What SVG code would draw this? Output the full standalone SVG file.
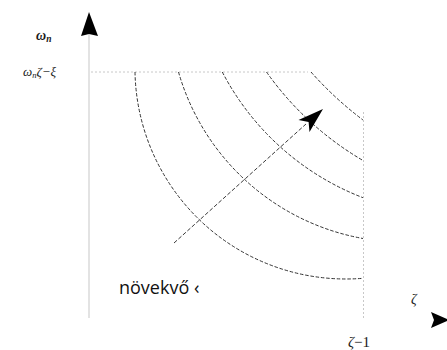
<svg xmlns="http://www.w3.org/2000/svg" width="447" height="350" viewBox="0 0 447 350">
<style>
.curve{fill:none;stroke:#333;stroke-width:1;stroke-dasharray:3.5 1.8}
.guide{fill:none;stroke:#c8c8c8;stroke-width:1;stroke-dasharray:2 2}
.axis{fill:none;stroke:#dcdcdc;stroke-width:1.6}
.math{font-family:"Liberation Serif","DejaVu Serif",serif;font-style:italic;fill:#1a1a1a}
.label{font-family:"Open Sans","Noto Sans",sans-serif;fill:#111}
.head{fill:#000}
</style>
<rect width="447" height="350" fill="#fff"/>
<g id="axes">
  <line class="axis" x1="89" y1="34" x2="89" y2="318"/>
  <polygon class="head" points="89,12 98,36 89,34 81,36"/>
  <polygon class="head" points="431,312 449,320 431,328 434,320"/>
</g>
<g id="guides">
  <line class="guide" x1="91" y1="72" x2="308" y2="72"/>
  <line class="guide" x1="363.5" y1="112" x2="363.5" y2="320"/>
</g>
<g id="curves">
  <path class="curve" d="M135,72 A211,211 0 0,0 363,278.3"/>
  <path class="curve" d="M178.5,72 A235,235 0 0,0 363,238.5"/>
  <path class="curve" d="M222.3,72 A267,267 0 0,0 363,197.7"/>
  <path class="curve" d="M266.5,72 A309.5,309.5 0 0,0 363,160.5"/>
  <path class="curve" d="M311,72 A357,357 0 0,0 363,120"/>
</g>
<g id="connectors">
  <line x1="174" y1="243" x2="306" y2="124" stroke="#3a3a3a" stroke-width="1" stroke-dasharray="4 2"/>
  <polygon class="head" points="323,109 309.5,132 308.6,122 298.5,120"/>
</g>
<g id="labels">
  <text class="math" x="36" y="40" font-size="14" font-weight="bold">ω<tspan font-size="9.5" dy="2">n</tspan></text>
  <text class="math" x="23" y="76" font-size="13">ω<tspan font-size="8.5" dy="2">n</tspan><tspan dy="-2">ζ−ξ</tspan></text>
  <text class="label" x="119" y="294" font-size="18">növekvő ‹</text>
  <text class="math" x="411" y="304" font-size="14">ζ</text>
  <text class="math" x="348" y="347" font-size="15">ζ<tspan font-style="normal">−1</tspan></text>
</g>
</svg>
